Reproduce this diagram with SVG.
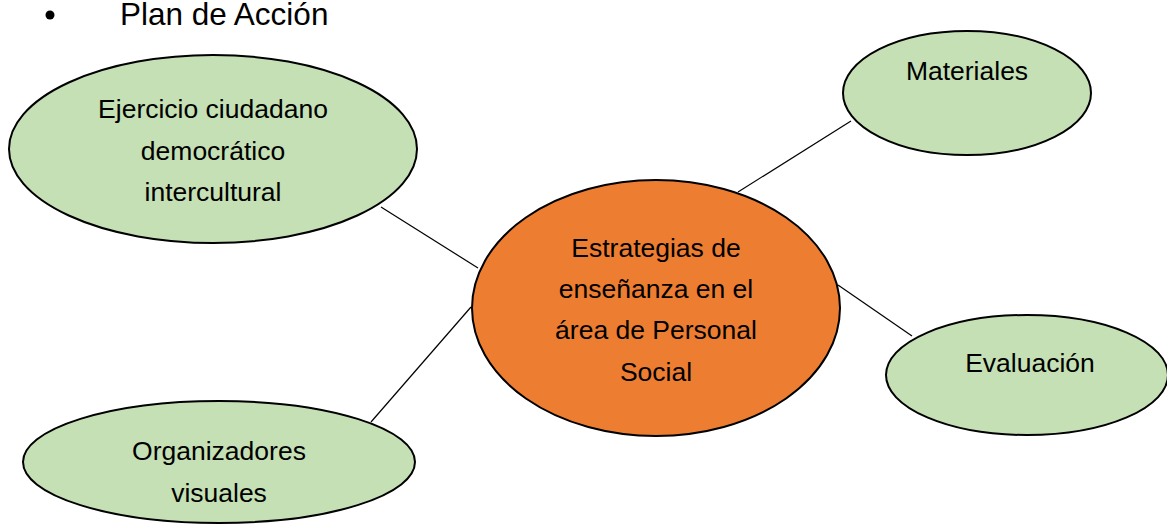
<svg xmlns="http://www.w3.org/2000/svg" width="1167" height="524" viewBox="0 0 1167 524">
<style>
.bg{fill:#ffffff}
.leaf{fill:#C5E0B4;stroke:#000;stroke-width:2}
.hub{fill:#ED7D31;stroke:#000;stroke-width:2}
.lbl{font-family:"Liberation Sans",Arial,sans-serif;font-size:26.5px;fill:#000;text-anchor:middle}
.title{font-family:"Liberation Sans",Arial,sans-serif;font-size:31.5px;fill:#000}
.conn line{stroke:#000;stroke-width:1.2}
</style>
<rect class="bg" x="0" y="0" width="1167" height="524"/>
<g id="title">
<circle cx="50" cy="15" r="4.5" fill="#000"/>
<text class="title" x="120" y="25">Plan de Acción</text>
</g>
<g id="connectors" class="conn">
<line x1="381" y1="207" x2="478" y2="268"/>
<line x1="371" y1="422" x2="471" y2="307"/>
<line x1="738" y1="192" x2="851" y2="121"/>
<line x1="838" y1="285" x2="912" y2="336"/>
</g>
<g id="node-ejercicio">
<ellipse class="leaf" cx="213" cy="149" rx="204" ry="94"/>
<text class="lbl" x="213" y="118">Ejercicio ciudadano</text>
<text class="lbl" x="213" y="160">democrático</text>
<text class="lbl" x="213" y="201">intercultural</text>
</g>
<g id="node-materiales">
<ellipse class="leaf" cx="967" cy="93" rx="124" ry="62"/>
<text class="lbl" x="967" y="80">Materiales</text>
</g>
<g id="node-estrategias">
<ellipse class="hub" cx="656" cy="308" rx="184" ry="128"/>
<text class="lbl" x="656" y="257">Estrategias de</text>
<text class="lbl" x="656" y="298">enseñanza en el</text>
<text class="lbl" x="656" y="339">área de Personal</text>
<text class="lbl" x="656" y="381">Social</text>
</g>
<g id="node-evaluacion">
<ellipse class="leaf" cx="1027" cy="375" rx="141" ry="60"/>
<text class="lbl" x="1030" y="372">Evaluación</text>
</g>
<g id="node-organizadores">
<ellipse class="leaf" cx="219" cy="462" rx="196" ry="61"/>
<text class="lbl" x="219" y="460">Organizadores</text>
<text class="lbl" x="219" y="502">visuales</text>
</g>
</svg>
